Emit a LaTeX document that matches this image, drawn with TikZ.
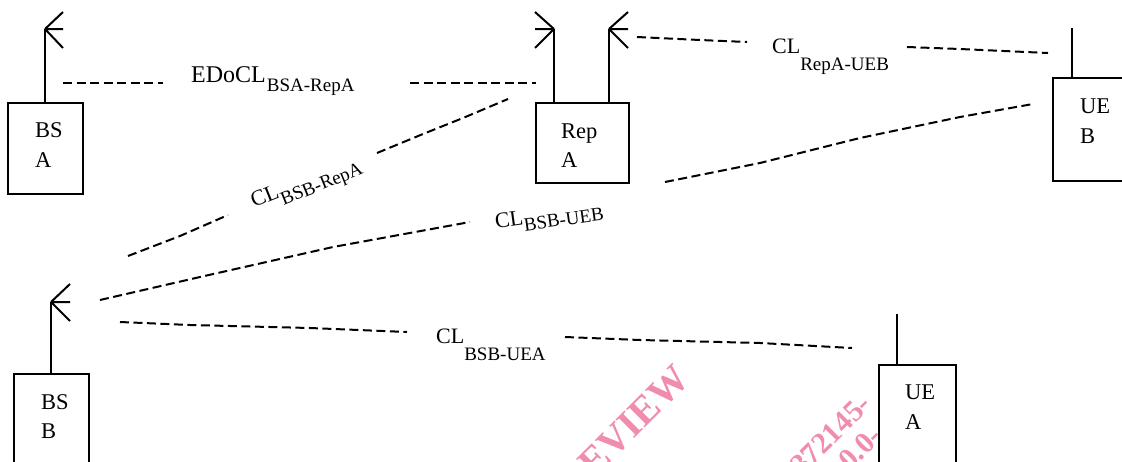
\documentclass[tikz,border=0pt]{standalone}
\usepackage{fontspec}
\setmainfont{Liberation Serif}
\definecolor{wmpink}{RGB}{240,140,172}
\newcommand{\mainsz}{\fontsize{22}{22}\selectfont}
\newcommand{\subsz}{\fontsize{19}{19}\selectfont}
\begin{document}
\begin{tikzpicture}[x=1pt,y=-1pt,
  box/.style={draw, line width=2pt, inner sep=0pt},
  ant/.style={line width=2pt},
  link/.style={line width=2pt, dash pattern=on 9pt off 4.5pt},
  lbl/.style={font=\fontsize{22.5}{22.5}\selectfont, inner sep=0pt, anchor=base west},
  cl/.style={inner sep=0pt, anchor=base west},
  wm/.style={text=wmpink, font=\bfseries, inner sep=0pt, rotate=45}]
\useasboundingbox (0,0) rectangle (1122,461);
\clip (0,0) rectangle (1122,461);
% watermark
\node[wm, font=\fontsize{40}{40}\selectfont\bfseries] (wm1) at (624,431) {REVIEW};
\node[wm, font=\fontsize{30}{30}\selectfont\bfseries, anchor=base east] (wm2) at (873,406) {372145-};
\node[wm, font=\fontsize{30}{30}\selectfont\bfseries, anchor=base east] (wm3) at (884,438) {0.0-};
% boxes
\node[box, minimum width=75pt, minimum height=91pt] (bsa) at (45.5,148.5) {};
\node[box, minimum width=93pt, minimum height=80pt] (repa) at (582.5,143) {};
\node[box, minimum width=87pt, minimum height=103pt] (ueb) at (1096.5,129.5) {};
\node[box, minimum width=75pt, minimum height=106pt] (bsb) at (51.5,427) {};
\node[box, minimum width=77pt, minimum height=115pt] (uea) at (917.5,422.5) {};
% box texts
\node[lbl] (bsa1) at (35,137) {BS};
\node[lbl] (bsa2) at (35,167) {A};
\node[lbl] (repa1) at (561,138) {Rep};
\node[lbl] (repa2) at (561,167) {A};
\node[lbl] (ueb1) at (1080,113) {UE};
\node[lbl] (ueb2) at (1080,143) {B};
\node[lbl] (bsb1) at (41,409) {BS};
\node[lbl] (bsb2) at (41,438) {B};
\node[lbl] (uea1) at (905,399) {UE};
\node[lbl] (uea2) at (905,429) {A};
% antennas
\coordinate (bsaAnt) at (45,29);
\coordinate (repaL) at (554,29);
\coordinate (repaR) at (609,29);
\coordinate (bsbAnt) at (51,302);
\coordinate (uebAnt) at (1072,28);
\coordinate (ueaAnt) at (897,314);
\draw[ant] (bsaAnt) -- (bsaAnt |- bsa.north);
\draw[ant] (bsaAnt) -- ++(18,-17) (bsaAnt) -- ++(18,0) (bsaAnt) -- ++(18,19);
\draw[ant] (repaL) -- (repaL |- repa.north);
\draw[ant] (repaL) -- ++(-19,-17) (repaL) -- ++(-19,0) (repaL) -- ++(-19,19);
\draw[ant] (repaR) -- (repaR |- repa.north);
\draw[ant] (repaR) -- ++(19,-17) (repaR) -- ++(19,0) (repaR) -- ++(19,19);
\draw[ant] (bsbAnt) -- (bsbAnt |- bsb.north);
\draw[ant] (bsbAnt) -- ++(19,-18) (bsbAnt) -- ++(19,0) (bsbAnt) -- ++(19,19);
\draw[ant] (uebAnt) -- (uebAnt |- ueb.north);
\draw[ant] (ueaAnt) -- (ueaAnt |- uea.north);
% labels
\node[cl] (l1) at (191,82) {\fontsize{24}{24}\selectfont EDoCL\kern1pt\raisebox{-9pt}{\subsz BSA-RepA}};
\node[cl] (l2) at (772,53) {\mainsz CL\raisebox{-17pt}{\subsz RepA-UEB}};
\node[cl, rotate=22] (l3) at (254,208) {\mainsz CL\raisebox{-9pt}{\subsz BSB-RepA}};
\node[cl, rotate=8] (l4) at (496,229) {\mainsz CL\raisebox{-6pt}{\subsz BSB-UEB}};
\node[cl] (l5) at (436,343) {\mainsz CL\raisebox{-17pt}{\subsz BSB-UEA}};
% link end points
\coordinate (a1) at (63,83);   \coordinate (a2) at (163,83);
\coordinate (a3) at (410,83);  \coordinate (a4) at (536,83);
\coordinate (b1) at (637,37);  \coordinate (b2) at (747,42);
\coordinate (b3) at (907,47);  \coordinate (b4) at (1048,53);
\coordinate (c1) at (128,256); \coordinate (c2) at (228,215);
\coordinate (c3) at (377,153); \coordinate (c4) at (508,99);
\coordinate (d1) at (100,300); \coordinate (d2) at (470,222);
\coordinate (d3) at (665,182); \coordinate (d4) at (1033,104);
\coordinate (e1) at (120,322); \coordinate (e2) at (407,332);
\coordinate (e3) at (565,337); \coordinate (e4) at (852,348);
% links
\draw[link] (a1) -- (a2);
\draw[link] (a3) -- (a4);
\draw[link] (b1) -- (700,40) -- (b2);
\draw[link] (b3) -- (960,49) -- (b4);
\draw[link] (c1) -- (180,236) -- (c2);
\draw[link] (c3) -- (423,134) -- (463,118) -- (c4);
\draw[link] (d1) -- (200,277) -- (333,247) -- (d2);
\draw[link] (d3) -- (760,163) -- (860,138) -- (960,117) -- (d4);
\draw[link] (e1) -- (190,325) -- (310,328) -- (e2);
\draw[link] (e3) -- (640,340) -- (760,343) -- (e4);
\end{tikzpicture}
\end{document}
